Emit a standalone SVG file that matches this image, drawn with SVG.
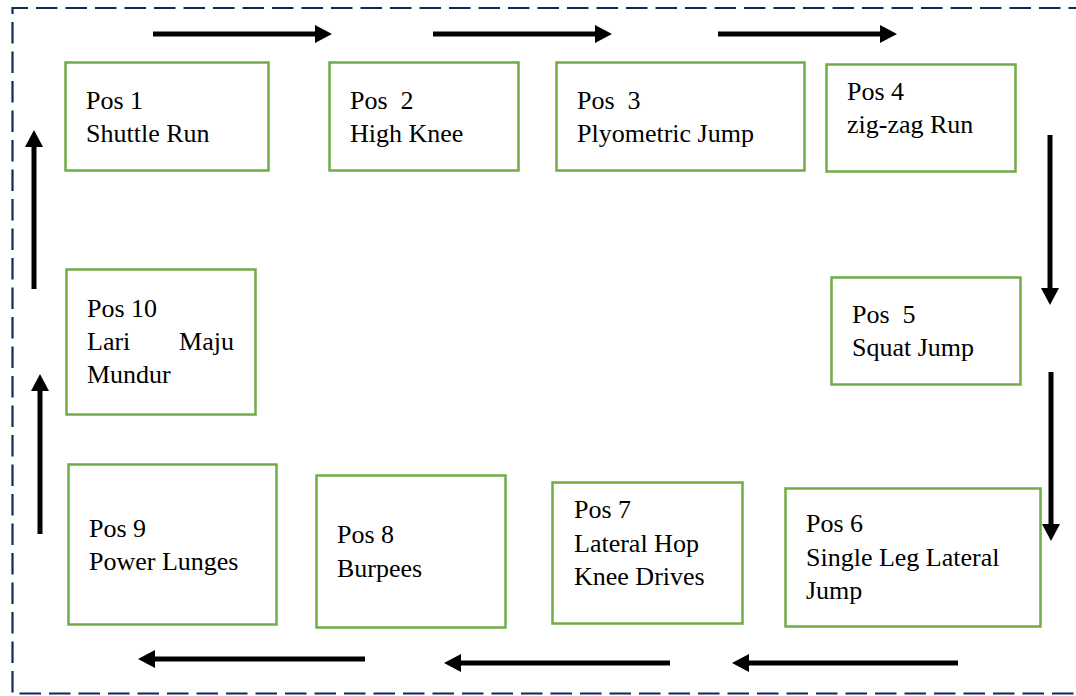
<svg xmlns="http://www.w3.org/2000/svg" width="1076" height="696" viewBox="0 0 1076 696">
<style>
.box{fill:#ffffff;stroke:#70ad47;stroke-width:2.5}
.t{font-family:"Liberation Serif","Times New Roman",serif;font-size:26px;fill:#000;white-space:pre}
.arr{stroke:#000;stroke-width:5;fill:none}
.frame{fill:none;stroke:#0d2a5c;stroke-width:2.2;stroke-dasharray:21.5 8}
</style>
<defs>
<marker id="ah" markerUnits="userSpaceOnUse" markerWidth="20" markerHeight="20" refX="2" refY="9" orient="auto">
<path d="M0,0 L17,9 L0,18 Z" fill="#000"/>
</marker>
</defs>
<rect width="1076" height="696" fill="#ffffff"/>
<path class="frame" d="M1090,8 L12.5,8 L12.5,693.5 L1090,693.5"/>
<g id="connectors">
<line class="arr" x1="153" y1="34" x2="317" y2="34" marker-end="url(#ah)"/>
<line class="arr" x1="433" y1="34" x2="597" y2="34" marker-end="url(#ah)"/>
<line class="arr" x1="718" y1="34" x2="882" y2="34" marker-end="url(#ah)"/>
<line class="arr" x1="1050" y1="135" x2="1050" y2="290" marker-end="url(#ah)"/>
<line class="arr" x1="1051" y1="372" x2="1051" y2="526" marker-end="url(#ah)"/>
<line class="arr" x1="958" y1="663" x2="747" y2="663" marker-end="url(#ah)"/>
<line class="arr" x1="670" y1="663" x2="459" y2="663" marker-end="url(#ah)"/>
<line class="arr" x1="365" y1="659" x2="153" y2="659" marker-end="url(#ah)"/>
<line class="arr" x1="40" y1="534" x2="40" y2="389" marker-end="url(#ah)"/>
<line class="arr" x1="34" y1="289" x2="34" y2="145" marker-end="url(#ah)"/>
</g>
<g id="pos1">
<rect class="box" x="65.5" y="62.5" width="203" height="108"/>
<text class="t" x="86" y="109">Pos 1</text>
<text class="t" x="86" y="142">Shuttle Run</text>
</g>
<g id="pos2">
<rect class="box" x="329.5" y="62.5" width="189" height="108"/>
<text class="t" x="350" y="109">Pos  2</text>
<text class="t" x="350" y="142">High Knee</text>
</g>
<g id="pos3">
<rect class="box" x="556.5" y="62.5" width="248" height="108"/>
<text class="t" x="577" y="109">Pos  3</text>
<text class="t" x="577" y="142">Plyometric Jump</text>
</g>
<g id="pos4">
<rect class="box" x="826.5" y="64.5" width="189" height="107"/>
<text class="t" x="847" y="100">Pos 4</text>
<text class="t" x="847" y="133">zig-zag Run</text>
</g>
<g id="pos5">
<rect class="box" x="831.5" y="277.5" width="189" height="107"/>
<text class="t" x="852" y="323">Pos  5</text>
<text class="t" x="852" y="356">Squat Jump</text>
</g>
<g id="pos6">
<rect class="box" x="785.5" y="488.5" width="255" height="138"/>
<text class="t" x="806" y="532">Pos 6</text>
<text class="t" x="806" y="566">Single Leg Lateral</text>
<text class="t" x="806" y="599">Jump</text>
</g>
<g id="pos7">
<rect class="box" x="552.5" y="482.5" width="190" height="141"/>
<text class="t" x="574" y="518">Pos 7</text>
<text class="t" x="574" y="552">Lateral Hop</text>
<text class="t" x="574" y="585">Knee Drives</text>
</g>
<g id="pos8">
<rect class="box" x="316.5" y="475.5" width="189" height="152"/>
<text class="t" x="337" y="543">Pos 8</text>
<text class="t" x="337" y="577">Burpees</text>
</g>
<g id="pos9">
<rect class="box" x="68.5" y="464.5" width="208" height="160"/>
<text class="t" x="89" y="537">Pos 9</text>
<text class="t" x="89" y="570">Power Lunges</text>
</g>
<g id="pos10">
<rect class="box" x="66.5" y="269.5" width="189" height="145"/>
<text class="t" x="87" y="317">Pos 10</text>
<text class="t" x="87" y="350">Lari</text>
<text class="t" x="234" y="350" text-anchor="end">Maju</text>
<text class="t" x="87" y="383">Mundur</text>
</g>
</svg>
